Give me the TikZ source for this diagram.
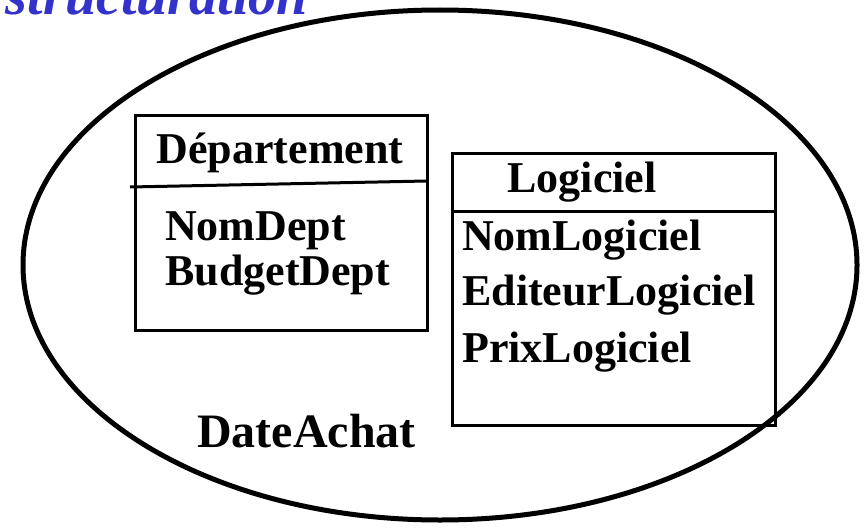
\documentclass[tikz,border=0pt]{standalone}
\usepackage{fontspec}
\setmainfont{Liberation Serif}
\usetikzlibrary{shapes.geometric}
\definecolor{titleblue}{RGB}{51,51,204}
\tikzset{
  boxtxt/.style={font=\fontsize{44}{48}\selectfont\bfseries, anchor=base west, inner sep=0pt},
  classbox/.style={draw, line width=3pt, inner sep=0pt},
}
\begin{document}
\begin{tikzpicture}[x=1pt,y=-1pt]
\clip (0,0) rectangle (864,527);
\fill[white] (0,0) rectangle (864,527);
\node[text=titleblue, font=\fontsize{56}{60}\selectfont\bfseries\itshape, anchor=base east, inner sep=0pt] (title) at (308,15) {structuration};
\node[draw, ellipse, line width=5pt, minimum width=834pt, minimum height=510pt, inner sep=0pt] (ell) at (440,265) {};
% Departement box
\node[classbox, minimum width=292pt, minimum height=215pt] (dept) at (281,222.5) {};
\draw[line width=3pt] (130,187) -- (427,181);
\node[font=\fontsize{44}{48}\selectfont\bfseries, anchor=base, inner sep=0pt] (deptname) at (280,163) {Département};
\node[boxtxt] (nomdept) at (165,240) {NomDept};
\node[boxtxt] (budget) at (165,285) {BudgetDept};
% Logiciel box
\node[classbox, minimum width=323pt, minimum height=272pt] (logi) at (613.5,289) {};
\draw[line width=3pt] (logi.west |- 0,211) -- (logi.east |- 0,211);
\node[font=\fontsize{44}{48}\selectfont\bfseries, anchor=base, inner sep=0pt] (loginame) at (582,192) {Logiciel};
\node[boxtxt] (nomlogi) at (462,250) {NomLogiciel};
\node[boxtxt] (editeur) at (462,305) {EditeurLogiciel};
\node[boxtxt] (prix) at (462,362) {PrixLogiciel};
% DateAchat
\node[font=\fontsize{48}{52}\selectfont\bfseries, anchor=base west, inner sep=0pt] (date) at (197,447) {DateAchat};
\end{tikzpicture}
\end{document}
